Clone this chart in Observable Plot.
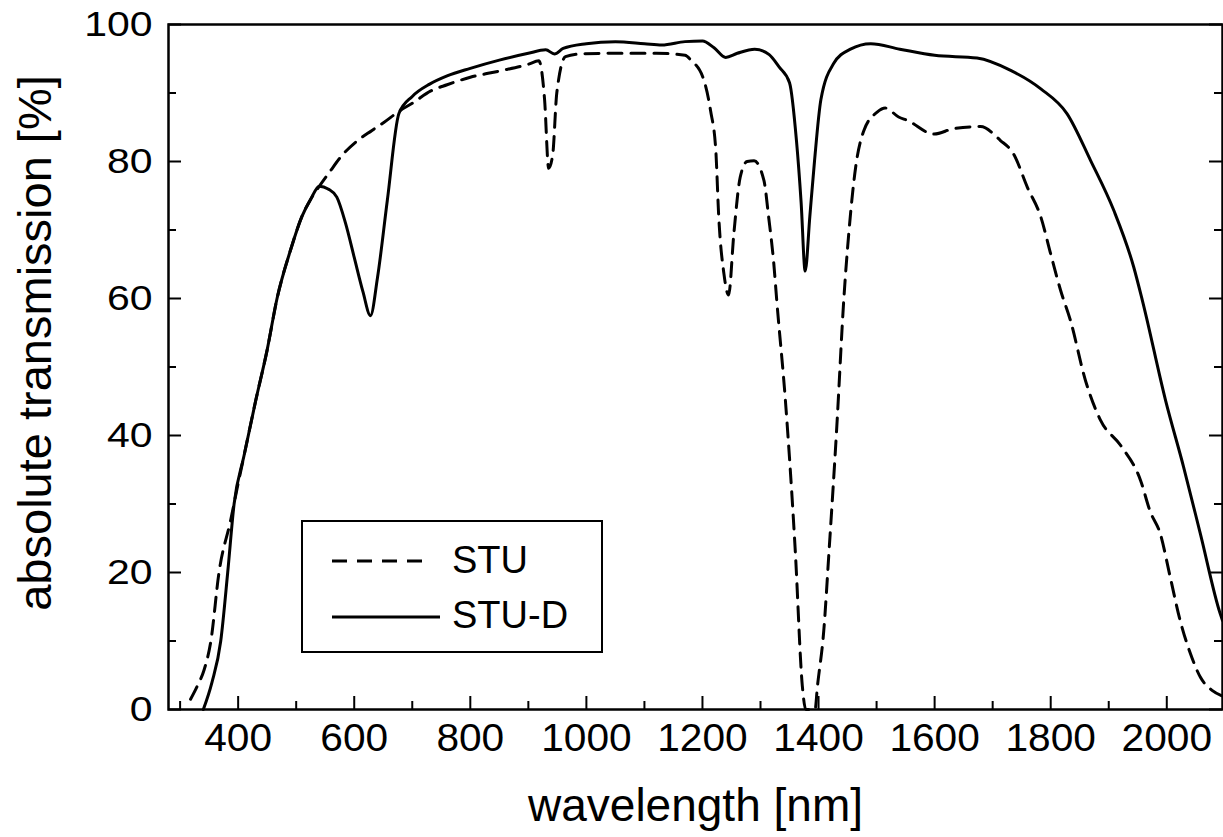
<!DOCTYPE html>
<html>
<head>
<meta charset="utf-8">
<script src="https://cdn.jsdelivr.net/npm/d3@7"></script>
<script src="https://cdn.jsdelivr.net/npm/@observablehq/plot@0.6"></script>
<style>
  html, body { margin: 0; padding: 0; background: #fff; }
  #wrap { position: relative; width: 1223px; height: 837px; font-family: "Liberation Sans", Arial, sans-serif; color: #000; }
  #legend { position: absolute; left: 301px; top: 520px; width: 298px; height: 129px; border: 2.5px solid #000; background: #fff; }
</style>
</head>
<body>
<div id="wrap"></div>
<script>
// ---- Data ----
const seriesNames = ["STU", "STU-D"];

const wavelengthSTU = [318, 330, 341, 353, 367, 387, 400, 410, 430, 450, 467, 490, 510, 525, 540, 557, 580, 605, 630, 651, 680, 700, 732, 760, 800, 850, 900, 918, 928, 935, 942, 949, 964, 990, 1050, 1120, 1170, 1180, 1202, 1214, 1223, 1228, 1237, 1245, 1254, 1265, 1277, 1289, 1306, 1314, 1323, 1328, 1343, 1360, 1372, 1378, 1394, 1398, 1409, 1418, 1431, 1444, 1452, 1464, 1478, 1501, 1515, 1538, 1553, 1599, 1633, 1679, 1713, 1736, 1760, 1783, 1800, 1817, 1834, 1860, 1886, 1921, 1955, 1971, 1989, 2006, 2023, 2041, 2058, 2078, 2095];
const transmissionSTU = [1.5, 3.5, 5.7, 10, 20, 27.6, 33, 37, 45, 52.5, 60, 67, 72, 74.5, 76.4, 78.4, 81, 83, 84.5, 85.7, 87.5, 88.5, 90.3, 91.2, 92.3, 93.2, 94.2, 94.7, 89, 79, 81, 90, 95.3, 95.7, 95.8, 95.8, 95.5, 94.8, 92, 87.4, 81.6, 72, 63.6, 60.5, 69.4, 77.7, 80, 80.1, 77.2, 71.9, 65, 59.7, 45, 23, 3.5, 0, 0, 3.3, 11.5, 23, 40.6, 60.5, 69.4, 79.2, 84.5, 87.2, 87.8, 86.5, 86, 84, 84.8, 85.1, 83.1, 81.1, 76.2, 71.9, 66.5, 61.2, 56.8, 48, 42.2, 38.5, 33.4, 29, 25.6, 19.3, 13, 8.1, 4.7, 2.8, 2.0];

const wavelengthSTUD = [340, 355, 370, 382, 393, 410, 430, 450, 467, 490, 510, 525, 540, 555, 570, 585, 600, 615, 628, 640, 657, 677, 700, 730, 760, 800, 850, 900, 930, 945, 960, 1000, 1050, 1100, 1130, 1170, 1200, 1220, 1240, 1260, 1290, 1315, 1332, 1350, 1362, 1370, 1377, 1385, 1393, 1404, 1426, 1455, 1490, 1540, 1600, 1673, 1731, 1783, 1828, 1869, 1909, 1943, 1958, 1998, 2029, 2058, 2092, 2096];
const transmissionSTUD = [0, 4, 10, 20, 30, 37, 45, 52.5, 60, 67, 72, 74.5, 76.4, 76, 74.8, 71, 66, 61, 57.5, 63, 74.3, 87, 89.5, 91.3, 92.5, 93.6, 94.8, 95.8, 96.3, 95.7, 96.5, 97.2, 97.5, 97.2, 97, 97.5, 97.6, 96.6, 95.2, 95.8, 96.4, 95.6, 93.8, 91.5, 83, 74, 64, 72, 80, 89, 94.3, 96.4, 97.2, 96.4, 95.5, 95.1, 93.3, 90.6, 87, 80.1, 72.8, 64.6, 59.7, 45.1, 35.4, 25.6, 14, 13];

const xMajorTicks = [400, 600, 800, 1000, 1200, 1400, 1600, 1800, 2000];
const xMinorTicks = [300, 500, 700, 900, 1100, 1300, 1500, 1700, 1900];
const yMajorTicks = [0, 20, 40, 60, 80, 100];
const yMinorTicks = [10, 30, 50, 70, 90];
const xLabel = "wavelength [nm]";
const yLabel = "absolute transmission [%]";

// ---- Build tables ----
const stu = wavelengthSTU.map((w, i) => ({wl: w, t: transmissionSTU[i]}));
const stuD = wavelengthSTUD.map((w, i) => ({wl: w, t: transmissionSTUD[i]}));

const W = 1223, H = 837;
const mL = 168, mR = 1, mT = 24, mB = 128;
const innerW = W - mL - mR, innerH = H - mT - mB;
const dash = "14,9";
const plain = d => String(d);

const chart = Plot.plot({
  width: W,
  height: H,
  marginLeft: mL,
  marginRight: mR,
  marginTop: mT,
  marginBottom: mB,
  style: {fontFamily: "'Liberation Sans', Arial, Helvetica, sans-serif", background: "#fff", color: "#000"},
  x: {domain: [280, 2096], label: null},
  y: {domain: [0, 100], label: null},
  marks: [
    Plot.line(stu, {x: "wl", y: "t", stroke: "#000", strokeWidth: 3, strokeDasharray: dash, curve: "monotone-x"}),
    Plot.line(stuD, {x: "wl", y: "t", stroke: "#000", strokeWidth: 3, curve: "monotone-x"}),
    Plot.frame({stroke: "#000", strokeWidth: 2.5}),
    Plot.ruleX(xMajorTicks, {x: d => d, insetTop: innerH - 13, stroke: "#000", strokeWidth: 2}),
    Plot.ruleX(xMinorTicks, {x: d => d, insetTop: innerH - 8, stroke: "#000", strokeWidth: 2}),
    Plot.ruleY(yMajorTicks, {y: d => d, insetRight: innerW - 13, stroke: "#000", strokeWidth: 2}),
    Plot.ruleY(yMinorTicks, {y: d => d, insetRight: innerW - 8, stroke: "#000", strokeWidth: 2}),
    Plot.ruleY(yMajorTicks, {y: d => d, insetLeft: innerW - 13, stroke: "#000", strokeWidth: 2}),
    Plot.ruleY(yMinorTicks, {y: d => d, insetLeft: innerW - 8, stroke: "#000", strokeWidth: 2}),
    Plot.axisX(xMajorTicks, {tickSize: 0, tickPadding: 15, fontSize: 38, label: null, tickFormat: plain}),
    Plot.axisY(yMajorTicks, {tickSize: 0, tickPadding: 16, fontSize: 35, label: null, tickFormat: plain}),
    Plot.text([xLabel], {frameAnchor: "bottom", textAnchor: "middle", lineAnchor: "middle", dy: 97, fontSize: 46}),
    Plot.text([yLabel], {frameAnchor: "left", textAnchor: "middle", lineAnchor: "middle", rotate: -90, dx: -133, dy: -24, fontSize: 47})
  ]
});

// Slight horizontal widening of tick labels to match the reference typeface
function widen(sel, sx) {
  d3.select(chart).selectAll(sel).each(function () {
    const x = parseFloat(this.getAttribute("x")) || 0;
    const t = this.getAttribute("transform") || "";
    this.setAttribute("transform", `${t} translate(${x},0) scale(${sx},1) translate(${-x},0)`);
  });
}
widen('g[aria-label="x-axis tick label"] text', 1.07);
widen('g[aria-label="y-axis tick label"] text', 1.17);

const wrap = document.getElementById("wrap");
wrap.appendChild(chart);

// ---- Legend ----
const legend = document.createElement("div");
legend.id = "legend";
wrap.appendChild(legend);
const lsvg = d3.select(legend).append("svg").attr("width", 298).attr("height", 129)
  .style("position", "absolute").style("left", "0").style("top", "0");
const items = [
  {name: seriesNames[0], dashed: true, y: 39, x2: 129, base: 51},
  {name: seriesNames[1], dashed: false, y: 95, x2: 137, base: 106}
];
items.forEach(it => {
  lsvg.append("line").attr("x1", 29).attr("x2", it.x2).attr("y1", it.y).attr("y2", it.y)
    .attr("stroke", "#000").attr("stroke-width", 3)
    .attr("stroke-dasharray", it.dashed ? "15,10" : null);
  lsvg.append("text").attr("x", 149).attr("y", it.base).text(it.name)
    .attr("font-size", 38).attr("fill", "#000")
    .attr("font-family", "'Liberation Sans', Arial, Helvetica, sans-serif");
});
</script>
</body>
</html>
